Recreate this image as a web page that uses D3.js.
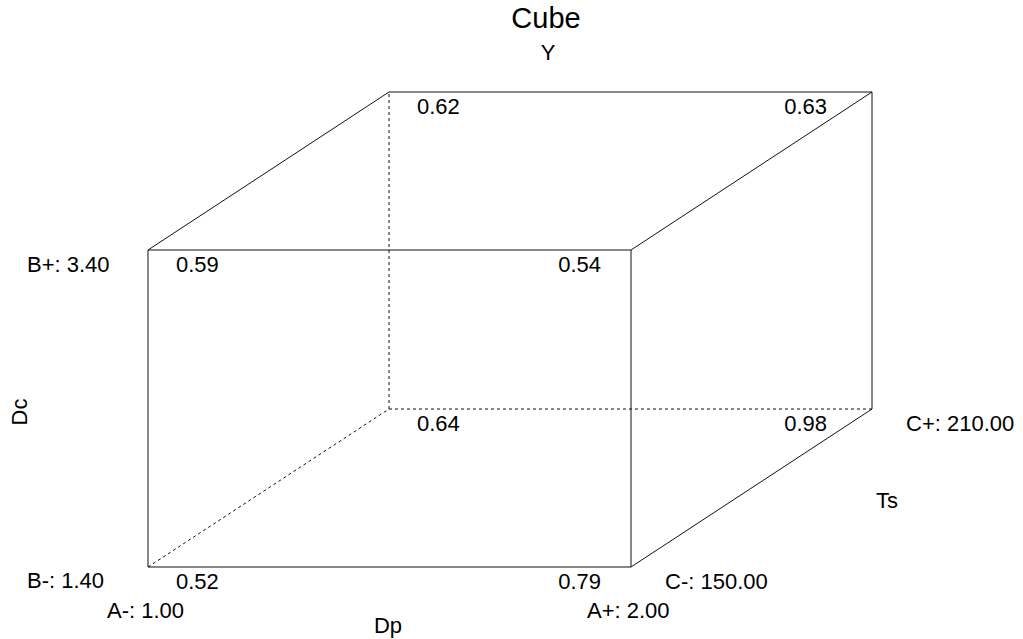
<!DOCTYPE html>
<html><head><meta charset="utf-8">
<script src="https://cdn.jsdelivr.net/npm/d3@7"></script>
<style>
html,body{margin:0;padding:0;background:#fff;overflow:hidden}
svg text{font-family:"Liberation Sans",Arial,sans-serif;fill:#000}
</style></head><body>
<svg id="c" width="1023" height="639"></svg>
<script>
// Data
const title = "Cube";
const responseName = "Y";
const factorNames = ["Dp", "Dc", "Ts"];
const aLabels = ["A-: 1.00", "A+: 2.00"];
const bLabels = ["B-: 1.40", "B+: 3.40"];
const cLabels = ["C-: 150.00", "C+: 210.00"];
// corners: coded levels of A, B, C with predicted response
const cornerA = [-1, 1, -1, 1, -1, 1, -1, 1];
const cornerB = [-1, -1, 1, 1, -1, -1, 1, 1];
const cornerC = [-1, -1, -1, -1, 1, 1, 1, 1];
const cornerY = [0.52, 0.79, 0.59, 0.54, 0.64, 0.98, 0.62, 0.63];

const FS = 22;
const svg = d3.select("#c");
const x = d3.scaleLinear().domain([-1, 1]).range([148, 631]);
const y = d3.scaleLinear().domain([-1, 1]).range([567, 250]);
const dx = d3.scaleLinear().domain([-1, 1]).range([0, 241]);
const dy = d3.scaleLinear().domain([-1, 1]).range([0, -158]);
const px = (a, c) => x(a) + dx(c);
const py = (b, c) => y(b) + dy(c);

const hidden = k => cornerA[k] === -1 && cornerB[k] === -1 && cornerC[k] === 1;
const edges = [];
for (let i = 0; i < 8; i++) for (let j = i + 1; j < 8; j++) {
  const diff = (cornerA[i] !== cornerA[j]) + (cornerB[i] !== cornerB[j]) + (cornerC[i] !== cornerC[j]);
  if (diff === 1) edges.push({i, j, dashed: hidden(i) || hidden(j)});
}
svg.append("g").selectAll("line").data(edges).join("line")
  .attr("x1", d => px(cornerA[d.i], cornerC[d.i]))
  .attr("y1", d => py(cornerB[d.i], cornerC[d.i]))
  .attr("x2", d => px(cornerA[d.j], cornerC[d.j]))
  .attr("y2", d => py(cornerB[d.j], cornerC[d.j]))
  .attr("stroke", "#111").attr("stroke-width", 1)
  .attr("stroke-dasharray", d => d.dashed ? "3,3" : null);

// Corner values
const idx = d3.range(8);
svg.append("g").selectAll("text").data(idx).join("text")
  .attr("x", k => cornerA[k] < 0 ? px(cornerA[k], cornerC[k]) + 28 : px(cornerA[k], cornerC[k]) - 30 - (cornerC[k] > 0 ? 15 : 0))
  .attr("y", k => py(cornerB[k], cornerC[k]) + 22)
  .attr("text-anchor", k => cornerA[k] < 0 ? "start" : "end")
  .attr("font-size", FS)
  .text(k => cornerY[k].toFixed(2));

// Factor level labels
svg.append("text").attr("x", 27).attr("y", y(1) + 22).attr("font-size", FS).text(bLabels[1]);
svg.append("text").attr("x", 27).attr("y", y(-1) + 21).attr("font-size", FS).text(bLabels[0]);
svg.append("text").attr("x", x(-1) - 41).attr("y", y(-1) + 51).attr("font-size", FS).text(aLabels[0]);
svg.append("text").attr("x", x(1) - 44).attr("y", y(-1) + 51).attr("font-size", FS).text(aLabels[1]);
svg.append("text").attr("x", px(1, -1) + 34).attr("y", py(-1, -1) + 22).attr("font-size", FS).text(cLabels[0]);
svg.append("text").attr("x", px(1, 1) + 34).attr("y", py(-1, 1) + 22).attr("font-size", FS).text(cLabels[1]);

// Titles
svg.append("text").attr("x", 546).attr("y", 28).attr("text-anchor", "middle").attr("font-size", 29).text(title);
svg.append("text").attr("x", 548).attr("y", 60).attr("text-anchor", "middle").attr("font-size", FS).text(responseName);
svg.append("text").attr("x", 388).attr("y", 633).attr("text-anchor", "middle").attr("font-size", FS).text(factorNames[0]);
svg.append("text").attr("transform", "translate(27,412) rotate(-90)").attr("text-anchor", "middle").attr("font-size", FS).text(factorNames[1]);
svg.append("text").attr("x", 887).attr("y", 508).attr("text-anchor", "middle").attr("font-size", FS).text(factorNames[2]);
</script></body></html>
